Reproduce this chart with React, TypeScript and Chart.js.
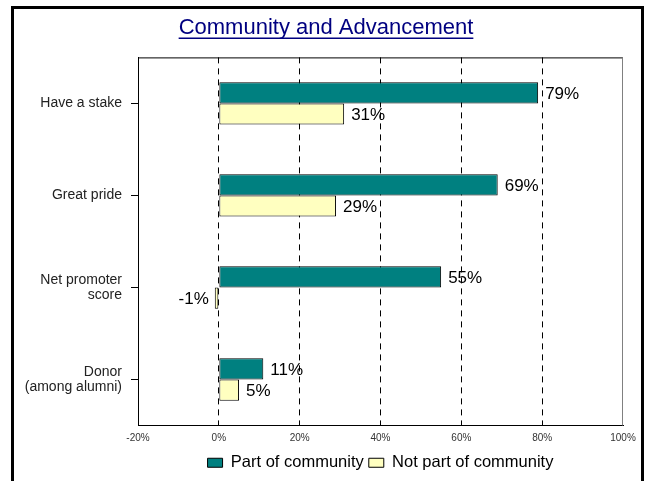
import React, { useEffect, useRef } from 'react';
import { Chart, registerables } from 'chart.js';

Chart.register(...registerables);

const titleText = 'Community and Advancement';
const categories: (string | string[])[] = [
  'Have a stake',
  'Great pride',
  ['Net promoter', 'score'],
  ['Donor', '(among alumni)'],
];
const seriesNames = ['Part of community', 'Not part of community'];
const partOfCommunity = [79, 69, 55, 11];
const notPartOfCommunity = [31, 29, -1, 5];
const xTickValues = [-20, 0, 20, 40, 60, 80, 100];

const FONT = 'Arial, "Liberation Sans", sans-serif';

const decorPlugin = {
  id: 'decor',
  afterLayout(chart: any) {
    const tb = chart.titleBlock;
    if (tb) {
      tb.left += 14;
      tb.width = tb.right - tb.left;
    }
  },
  beforeDraw(chart: any) {
    const ctx = chart.ctx;
    ctx.save();
    ctx.fillStyle = '#ffffff';
    ctx.fillRect(0, 0, chart.width, chart.height);
    ctx.strokeStyle = '#000000';
    ctx.lineWidth = 3;
    ctx.strokeRect(12.5, 7.5, 630, 490);
    ctx.restore();
  },
  beforeDatasetsDraw(chart: any) {
    const { ctx, chartArea: a } = chart;
    ctx.save();
    ctx.lineWidth = 1;
    ctx.strokeStyle = '#000000';
    ctx.beginPath();
    ctx.moveTo(a.left, a.top + 0.5);
    ctx.lineTo(a.right, a.top + 0.5);
    ctx.stroke();
    ctx.strokeStyle = '#808080';
    ctx.beginPath();
    ctx.moveTo(a.right - 0.5, a.top);
    ctx.lineTo(a.right - 0.5, a.bottom);
    ctx.stroke();
    ctx.restore();
  },
  afterDatasetsDraw(chart: any) {
    const ctx = chart.ctx;
    ctx.save();
    ctx.font = `17px ${FONT}`;
    ctx.fillStyle = '#000000';
    ctx.textBaseline = 'middle';
    chart.data.datasets.forEach((ds: any, i: number) => {
      const meta = chart.getDatasetMeta(i);
      meta.data.forEach((bar: any, j: number) => {
        const v = ds.data[j];
        const neg = v < 0;
        ctx.textAlign = neg ? 'right' : 'left';
        ctx.fillText(`${v}%`, bar.x + (neg ? -6 : 7), bar.y + 1);
      });
    });
    ctx.restore();
  },
  afterDraw(chart: any) {
    const tb = chart.titleBlock;
    if (!tb) return;
    const ctx = chart.ctx;
    ctx.save();
    ctx.font = `22px ${FONT}`;
    const w = ctx.measureText(titleText).width;
    const cx = (tb.left + tb.right) / 2;
    ctx.fillStyle = '#000080';
    ctx.fillRect(cx - w / 2, 37.5, w, 1.5);
    ctx.restore();
  },
};

export default function App() {
  const ref = useRef<HTMLCanvasElement | null>(null);

  useEffect(() => {
    if (!ref.current) return;
    const chart = new Chart(ref.current, {
      type: 'bar',
      data: {
        labels: categories as any,
        datasets: [
          {
            label: seriesNames[0],
            data: partOfCommunity,
            backgroundColor: '#008080',
            borderColor: '#000000',
            borderWidth: 1,
            borderSkipped: false,
            categoryPercentage: 0.46,
            barPercentage: 1.0,
          },
          {
            label: seriesNames[1],
            data: notPartOfCommunity,
            backgroundColor: '#FFFFC0',
            borderColor: '#000000',
            borderWidth: 1,
            borderSkipped: false,
            categoryPercentage: 0.46,
            barPercentage: 1.0,
          },
        ],
      },
      options: {
        indexAxis: 'y',
        animation: false,
        responsive: true,
        maintainAspectRatio: false,
        layout: { padding: { left: 15, right: 23, top: 0, bottom: 0 } },
        plugins: {
          title: {
            display: true,
            text: titleText,
            color: '#000080',
            font: { family: FONT, size: 22, weight: 'normal' },
            padding: { top: 15, bottom: 16 },
          },
          legend: {
            display: true,
            position: 'bottom',
            fullSize: false,
            labels: {
              boxWidth: 15,
              boxHeight: 9,
              padding: 5,
              color: '#000000',
              font: { family: FONT, size: 16.5 },
            },
          },
          tooltip: { enabled: false },
        },
        scales: {
          x: {
            type: 'linear',
            min: -20,
            max: 100,
            afterBuildTicks: (s: any) => {
              s.ticks = xTickValues.map((v) => ({ value: v }));
            },
            afterFit: (s: any) => {
              s.height = 24;
            },
            ticks: {
              callback: (v: any) => `${v}%`,
              font: { family: FONT, size: 10 },
              color: '#333333',
              padding: 7,
              maxRotation: 0,
              autoSkip: false,
            },
            grid: {
              color: (c: any) =>
                c.tick && (c.tick.value === -20 || c.tick.value === 100) ? 'rgba(0,0,0,0)' : '#000000',
              drawTicks: false,
              lineWidth: 1,
            },
            border: { display: true, color: '#000000', width: 1, dash: [6, 5] },
          },
          y: {
            type: 'category',
            afterFit: (s: any) => {
              s.width = 123;
            },
            ticks: {
              font: { family: FONT, size: 14, lineHeight: 1.1 },
              color: '#222222',
              padding: 9,
              autoSkip: false,
            },
            grid: {
              display: true,
              drawOnChartArea: false,
              drawTicks: true,
              tickLength: 7,
              offset: false,
              color: '#000000',
            },
            border: { display: true, color: '#000000', width: 1 },
          },
        },
      },
      plugins: [decorPlugin],
    } as any);
    return () => chart.destroy();
  }, []);

  return (
    <div style={{ position: 'absolute', left: 0, top: 0, width: 646, height: 481 }}>
      <canvas ref={ref} />
    </div>
  );
}
